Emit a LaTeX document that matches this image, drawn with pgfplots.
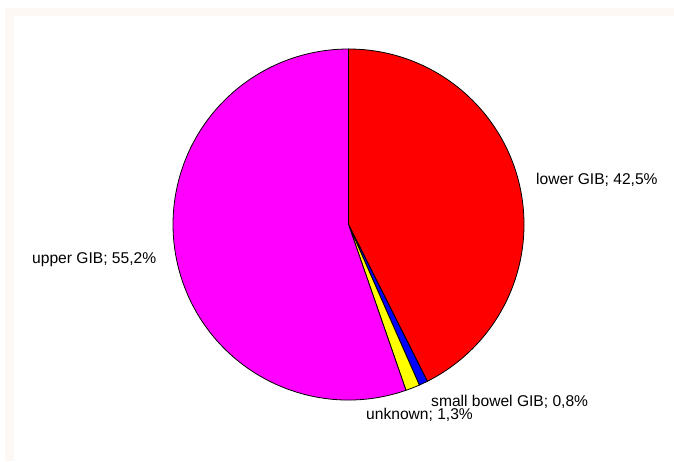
\documentclass[border=0pt]{standalone}
\usepackage{pgfplots}
\usepackage{pgfplotstable}
\pgfplotsset{compat=1.18}
\usepackage{fontspec}
\setmainfont{Liberation Sans}
\definecolor{framebg}{RGB}{253,248,243}
\definecolor{cRed}{RGB}{255,0,0}
\definecolor{cBlue}{RGB}{0,0,255}
\definecolor{cYellow}{RGB}{255,255,0}
\definecolor{cMagenta}{RGB}{255,0,255}

\pgfplotstableread[col sep=comma]{
label,value
lower GIB,42.5
small bowel GIB,0.8
unknown,1.3
upper GIB,55.2
}\piedata

\pgfplotstablegetelem{0}{value}\of\piedata \let\vA\pgfplotsretval
\pgfplotstablegetelem{1}{value}\of\piedata \let\vB\pgfplotsretval
\pgfplotstablegetelem{2}{value}\of\piedata \let\vC\pgfplotsretval
\pgfplotstablegetelem{3}{value}\of\piedata \let\vD\pgfplotsretval
\pgfmathsetmacro\vT{\vA+\vB+\vC+\vD}
\pgfmathsetmacro\aA{90}
\pgfmathsetmacro\aB{\aA-360*\vA/\vT}
\pgfmathsetmacro\aC{\aB-360*\vB/\vT}
\pgfmathsetmacro\aD{\aC-360*\vC/\vT}
\pgfmathsetmacro\aE{90-360}

\begin{document}
\begin{tikzpicture}
\begin{axis}[
  width=674pt, height=461pt, scale only axis,
  xmin=0, xmax=674, ymin=0, ymax=461,
  hide axis, clip=false,
]
\fill[white] (axis cs:0,0) rectangle (axis cs:674,461);
\fill[framebg] (axis cs:5,0) rectangle (axis cs:674,453);
\fill[white] (axis cs:14,0) rectangle (axis cs:674,445);
% slices
\filldraw[fill=cRed, draw=black, line width=0.8pt] (axis cs:348.5,236.5) -- ++(\aA:175.5pt) arc[start angle=\aA, end angle=\aB, radius=175.5pt] -- cycle;
\filldraw[fill=cBlue, draw=black, line width=0.8pt] (axis cs:348.5,236.5) -- ++(\aB:175.5pt) arc[start angle=\aB, end angle=\aC, radius=175.5pt] -- cycle;
\filldraw[fill=cYellow, draw=black, line width=0.8pt] (axis cs:348.5,236.5) -- ++(\aC:175.5pt) arc[start angle=\aC, end angle=\aD, radius=175.5pt] -- cycle;
\filldraw[fill=cMagenta, draw=black, line width=0.8pt] (axis cs:348.5,236.5) -- ++(\aD:175.5pt) arc[start angle=\aD, end angle=\aE, radius=175.5pt] -- cycle;
% labels
\tikzset{lbl/.style={anchor=base west, inner sep=0pt, font=\fontsize{15.6}{18}\selectfont}}
\node[lbl] at (axis cs:536,276) {lower GIB; 42,5\%};
\node[lbl] at (axis cs:32,198) {upper GIB; 55,2\%};
\node[lbl] at (axis cs:431,55) {small bowel GIB; 0,8\%};
\node[lbl] at (axis cs:366,42) {unknown; 1,3\%};
\end{axis}
\end{tikzpicture}
\end{document}
